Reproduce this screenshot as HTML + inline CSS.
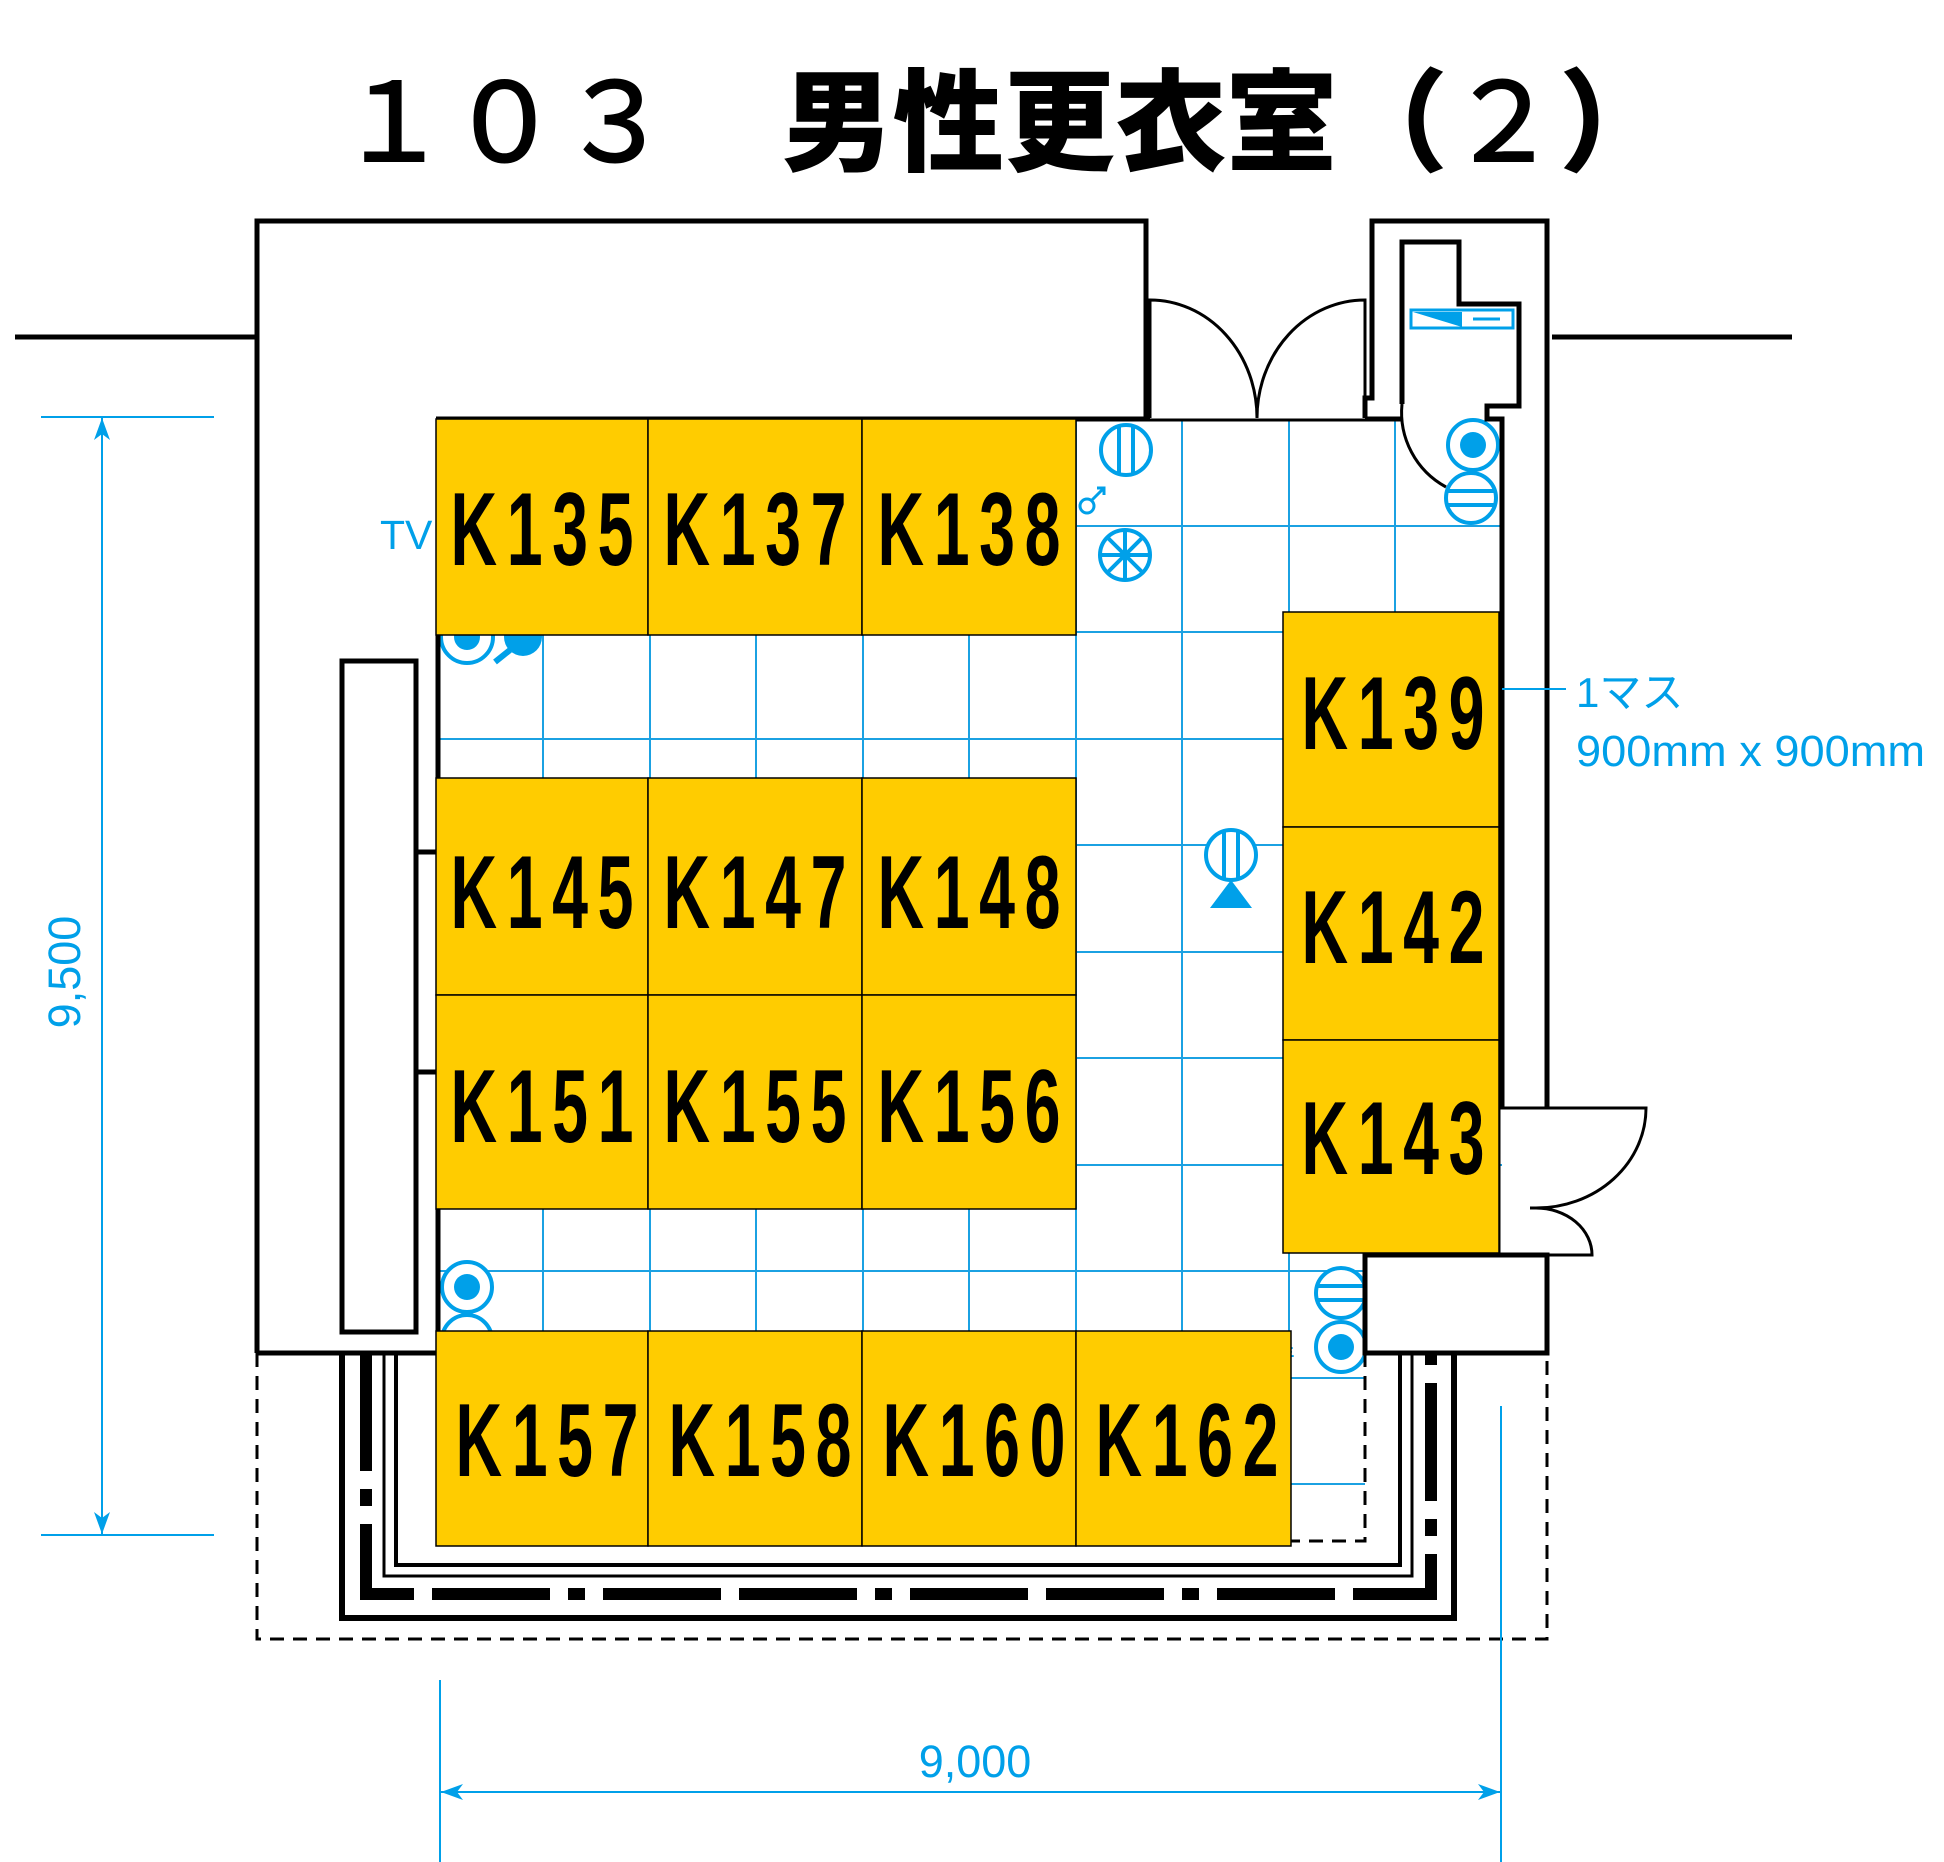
<!DOCTYPE html>
<html><head><meta charset="utf-8"><style>
html,body{margin:0;padding:0;background:#fff;}
svg{display:block;}
.k{font-family:"Liberation Sans",sans-serif;font-weight:bold;font-size:104px;fill:#000;}
.b{font-family:"Liberation Sans","Noto Sans CJK JP",sans-serif;fill:#00A0E9;}
</style></head><body>
<svg width="1944" height="1862" viewBox="0 0 1944 1862" xmlns="http://www.w3.org/2000/svg">
<rect width="1944" height="1862" fill="#fff"/>
<!-- title -->
<text x="338" y="162" font-family="'Noto Sans CJK JP','Noto Sans CJK SC',sans-serif" font-weight="900" font-size="111" fill="#000"><tspan font-weight="500">１０３</tspan>　男性更衣室（<tspan font-weight="500">２</tspan>）</text>

<!-- grid -->
<g stroke="#1BA1E2" stroke-width="2" fill="none">
<path d="M543 419V1541M650 419V1541M756 419V1541M863 419V1541M969 419V1541M1076 419V1541M1182 419V1541M1289 419V1541M1395 419V1255"/>
<path d="M438 526H1502M438 632H1502M438 739H1502M438 845H1502M438 952H1502M438 1058H1502M438 1165H1502M438 1271H1502M438 1378H1365M438 1484H1365"/>
</g>

<!-- blue symbols -->
<g stroke="#00A0E9" stroke-width="4" fill="#fff">
<circle cx="467" cy="637" r="26"/>
<circle cx="1126" cy="450" r="25"/><path d="M1119 427V473M1133 427V473" fill="none"/>
<circle cx="1125" cy="555" r="25"/><path d="M1125 530V580M1100 555H1150M1107 537L1143 573M1107 573L1143 537" fill="none"/>
<circle cx="1473" cy="445" r="25"/>
<circle cx="1471" cy="498" r="25"/><path d="M1447 491H1495M1447 505H1495" fill="none"/>
<circle cx="1231" cy="855" r="25"/><path d="M1224 832V878M1238 832V878" fill="none"/>
<circle cx="467" cy="1287" r="25"/>
<circle cx="467" cy="1340" r="25"/>
<circle cx="1341" cy="1293" r="25"/><path d="M1317 1286H1365M1317 1300H1365" fill="none"/>
<circle cx="1341" cy="1347" r="25"/>
<path d="M510 650L495 662" fill="none" stroke-width="6"/>
<rect x="1411" y="310" width="102" height="18" fill="#fff" stroke-width="3"/>
<path d="M1473 319H1500" fill="none" stroke-width="3"/>
<path d="M1092 500L1104 488M1097 488H1104V495" fill="none" stroke-width="3"/>
<circle cx="1087" cy="506" r="7" fill="none" stroke-width="3"/>
</g>
<g fill="#00A0E9">
<circle cx="467" cy="637" r="13"/>
<circle cx="523" cy="637" r="19"/>
<circle cx="1473" cy="445" r="13"/>
<circle cx="467" cy="1287" r="13"/>
<circle cx="1341" cy="1347" r="13"/>
<path d="M1413 312L1462 327L1462 312Z"/>
<path d="M1231 880L1252 908L1210 908Z"/>
</g>
<text class="b" x="1263" y="1372" font-size="32">清</text>

<!-- walls -->
<g stroke="#000" stroke-width="5" fill="none">
<path d="M257 1353V221H1146V418"/>
<path d="M1365 418V398H1372V221H1547V1108"/>
<path d="M1402 404V242H1459V304H1519V406H1487V419H1502V1108"/>
<path d="M436 419H1150M1365 419H1402"/>
<path d="M438 635V852H416M416 1072H438V1331"/>
<path d="M257 1353H436"/>
<rect x="342" y="661" width="74" height="671" fill="#fff"/>
<rect x="1365" y="1255" width="182" height="98" fill="#fff"/>
<path d="M342 1353V1618H1454V1353" stroke-width="6"/>
<path d="M384 1353V1576H1412V1353" stroke-width="3"/>
<path d="M396 1353V1565H1400V1353" stroke-width="4"/>
<path d="M366 1353V1594H1431V1353" stroke-width="12" stroke-dasharray="118 18 17 18 118 18"/>
<path d="M257 1353V1639H1547V1353" stroke-width="3" stroke-dasharray="14 9"/>
<path d="M1365 1353V1541H1291" stroke-width="3" stroke-dasharray="14 9"/>
<path d="M15 337H257M1552 337H1792"/>
</g>
<g stroke="#000" stroke-width="3" fill="none">
<path d="M1150 418V300A107 118 0 0 1 1257 418"/>
<path d="M1365 418V300A108 118 0 0 0 1257 418"/>
<path d="M1150 420H1365"/>
<path d="M1402 404A85 85 0 0 0 1446 487"/>
<path d="M1499 1108H1646A110 100 0 0 1 1536 1208M1530 1208H1536A56 47 0 0 1 1592 1255H1499V1108"/>
</g>

<!-- lockers -->
<g fill="#FFCC00" stroke="#000" stroke-width="1.5">
<rect x="436" y="419" width="212" height="216"/><rect x="648" y="419" width="214" height="216"/><rect x="862" y="419" width="214" height="216"/>
<rect x="436" y="778" width="212" height="217"/><rect x="648" y="778" width="214" height="217"/><rect x="862" y="778" width="214" height="217"/>
<rect x="436" y="995" width="212" height="214"/><rect x="648" y="995" width="214" height="214"/><rect x="862" y="995" width="214" height="214"/>
<rect x="436" y="1331" width="212" height="215"/><rect x="648" y="1331" width="214" height="215"/><rect x="862" y="1331" width="214" height="215"/><rect x="1076" y="1331" width="215" height="215"/>
<rect x="1283" y="612" width="216" height="215"/><rect x="1283" y="827" width="216" height="213"/><rect x="1283" y="1040" width="216" height="213"/>
</g>
<g class="k" text-anchor="middle">
<text transform="translate(542 565) scale(0.62 1)" textLength="295" lengthAdjust="spacing">K135</text>
<text transform="translate(755 565) scale(0.62 1)" textLength="295" lengthAdjust="spacing">K137</text>
<text transform="translate(969 565) scale(0.62 1)" textLength="295" lengthAdjust="spacing">K138</text>
<text transform="translate(542 928) scale(0.62 1)" textLength="295" lengthAdjust="spacing">K145</text>
<text transform="translate(755 928) scale(0.62 1)" textLength="295" lengthAdjust="spacing">K147</text>
<text transform="translate(969 928) scale(0.62 1)" textLength="295" lengthAdjust="spacing">K148</text>
<text transform="translate(542 1142) scale(0.62 1)" textLength="295" lengthAdjust="spacing">K151</text>
<text transform="translate(755 1142) scale(0.62 1)" textLength="295" lengthAdjust="spacing">K155</text>
<text transform="translate(969 1142) scale(0.62 1)" textLength="295" lengthAdjust="spacing">K156</text>
<text transform="translate(547 1476) scale(0.62 1)" textLength="295" lengthAdjust="spacing">K157</text>
<text transform="translate(760 1476) scale(0.62 1)" textLength="295" lengthAdjust="spacing">K158</text>
<text transform="translate(974 1476) scale(0.62 1)" textLength="295" lengthAdjust="spacing">K160</text>
<text transform="translate(1187 1476) scale(0.62 1)" textLength="295" lengthAdjust="spacing">K162</text>
<text transform="translate(1393 749) scale(0.62 1)" textLength="295" lengthAdjust="spacing">K139</text>
<text transform="translate(1393 963) scale(0.62 1)" textLength="295" lengthAdjust="spacing">K142</text>
<text transform="translate(1393 1174) scale(0.62 1)" textLength="295" lengthAdjust="spacing">K143</text>
</g>

<!-- labels / dims -->
<text class="b" x="380" y="549" font-size="41">TV</text>
<path d="M1502 689H1566" stroke="#00A0E9" stroke-width="2"/>
<text class="b" x="1576" y="707" font-size="42">1マス</text>
<text class="b" x="1576" y="766" font-size="44" textLength="349" lengthAdjust="spacingAndGlyphs">900mm x 900mm</text>
<g stroke="#00A0E9" stroke-width="2" fill="none">
<path d="M41 417H214M41 1535H214M102 417V1535"/>
<path d="M440 1680V1862M1501 1406V1862M440 1792H1501"/>
</g>
<g fill="#00A0E9">
<path d="M102 418L94 440L102 434L110 440Z"/>
<path d="M102 1534L94 1512L102 1518L110 1512Z"/>
<path d="M441 1792L463 1784L457 1792L463 1800Z"/>
<path d="M1500 1792L1478 1784L1484 1792L1478 1800Z"/>
</g>
<text class="b" x="80" y="972" font-size="45" text-anchor="middle" transform="rotate(-90 80 972)">9,500</text>
<text class="b" x="975" y="1777" font-size="45" text-anchor="middle">9,000</text>
</svg>
</body></html>
